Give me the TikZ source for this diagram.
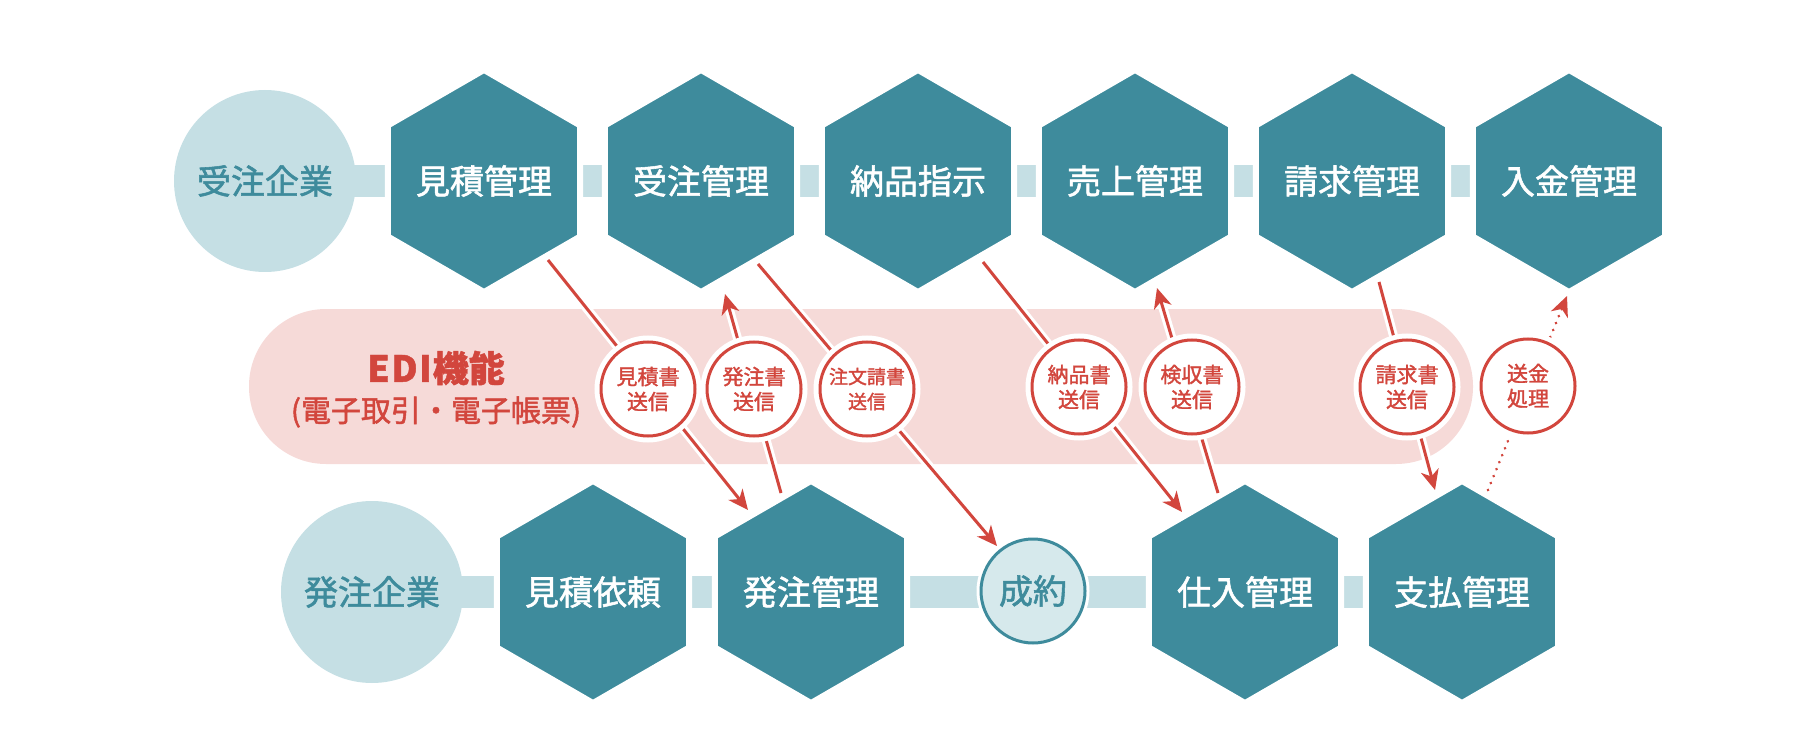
\documentclass[tikz,border=0pt]{standalone}
\usepackage{fontspec}
\newfontfamily\jp{Noto Sans CJK JP}[FakeBold=1.6]
\newfontfamily\jpb{Noto Sans CJK JP}[FakeBold=1.2,BoldFeatures={FakeBold=1.2}]
\usetikzlibrary{shapes.geometric,arrows.meta,backgrounds,calc}
\definecolor{tealc}{HTML}{3E8B9C}
\definecolor{lightc}{HTML}{C5DFE4}
\definecolor{palec}{HTML}{D6E9EC}
\definecolor{pinkc}{HTML}{F6DAD8}
\definecolor{redc}{HTML}{D2463D}
\begin{document}
\begin{tikzpicture}[x=1pt,y=-1pt,
  hexa/.style={regular polygon, regular polygon sides=6, shape border rotate=30,
    minimum size=218, inner sep=0, outer sep=0, fill=tealc, draw=white, line width=6,
    text=white, font=\jp\fontsize{34}{40}\selectfont},
  firm/.style={circle, minimum size=182, inner sep=0, fill=lightc, text=tealc,
    font=\jp\fontsize{34}{40}\selectfont},
  deal/.style={circle, minimum size=104, inner sep=0, fill=palec, draw=tealc, line width=3,
    preaction={draw=white, line width=9}, text=tealc, font=\jp\fontsize{34}{40}\selectfont},
  msg/.style={circle, minimum size=94, inner sep=0, fill=white, draw=redc, line width=3,
    preaction={draw=white, line width=13}, text=redc, align=center,
    font=\jp\fontsize{21}{25}\selectfont},
  halo/.style={draw=white, line width=9},
  link/.style={draw=redc, line width=3, -{Stealth[length=20pt, width=18pt, inset=6pt]}},
  dotlink/.style={draw=redc, line width=3, line cap=round, dash pattern=on 0.01pt off 7.5pt,
    -{Stealth[length=20pt, width=18pt, inset=6pt]}},
]
\useasboundingbox (0,0) rectangle (1801,751);

% top row
\node[firm] (c1) at (265,181) {受注企業};
\node[hexa] (h1) at (484,181) {見積管理};
\node[hexa] (h2) at (701,181) {受注管理};
\node[hexa] (h3) at (918,181) {納品指示};
\node[hexa] (h4) at (1135,181) {売上管理};
\node[hexa] (h5) at (1352,181) {請求管理};
\node[hexa] (h6) at (1569,181) {入金管理};

% bottom row
\node[firm] (c2) at (372,592) {発注企業};
\node[hexa] (b1) at (593,592) {見積依頼};
\node[hexa] (b2) at (811,592) {発注管理};
\node[deal] (k) at (1033,591) {成約};
\node[hexa] (b3) at (1245,592) {仕入管理};
\node[hexa] (b4) at (1462,592) {支払管理};

\begin{scope}[on background layer]
  \fill[pinkc, rounded corners=77] (249,309) rectangle (1473,464);
  \fill[lightc] ($(c1.center)+(0,-16)$) rectangle ($(h6.center)+(0,16)$);
  \fill[lightc] ($(c2.center)+(0,-16)$) rectangle ($(b4.center)+(0,16)$);
\end{scope}

% EDI label
\node[text=redc, font=\jpb\bfseries\fontsize{36}{40}\selectfont] (edi) at (436,368) {E\kern1.5pt D\kern1.5pt I\kern1pt 機能};
\node[text=redc, font=\jp\fontsize{30}{34}\selectfont] (edisub) at (436,412) {(電子取引・電子帳票)};

% connector end points
\coordinate (s1) at (548,260);  \coordinate (e1) at (748,510);
\coordinate (s2) at (781,493);  \coordinate (e2) at (725,294);
\coordinate (s3) at (758,264);  \coordinate (e3) at (997,546);
\coordinate (s4) at (983,262);  \coordinate (e4) at (1182,512);
\coordinate (s5) at (1218,493); \coordinate (e5) at (1157,288);
\coordinate (s6) at (1379,282); \coordinate (e6) at (1435,490);
\coordinate (s7) at (1488,490); \coordinate (e7) at (1567,296);

\foreach \a/\b in {s1/e1,s2/e2,s3/e3,s4/e4,s5/e5,s6/e6}{
  \draw[halo] (\a) -- (\b);
}
\foreach \a/\b in {s1/e1,s2/e2,s3/e3,s4/e4,s5/e5,s6/e6}{
  \draw[link] (\a) -- (\b);
}
\draw[dotlink] (s7) -- (e7);

% message circles
\node[msg] (m1) at (648,389) {見積書\\送信};
\node[msg] (m2) at (754,389) {発注書\\送信};
\node[msg, font=\jp\fontsize{19}{25}\selectfont] (m3) at (867,389) {注文請書\\送信};
\node[msg] (m4) at (1079,387) {納品書\\送信};
\node[msg] (m5) at (1192,387) {検収書\\送信};
\node[msg] (m6) at (1407,387) {請求書\\送信};
\node[msg] (m7) at (1528,386) {送金\\処理};
\end{tikzpicture}
\end{document}
